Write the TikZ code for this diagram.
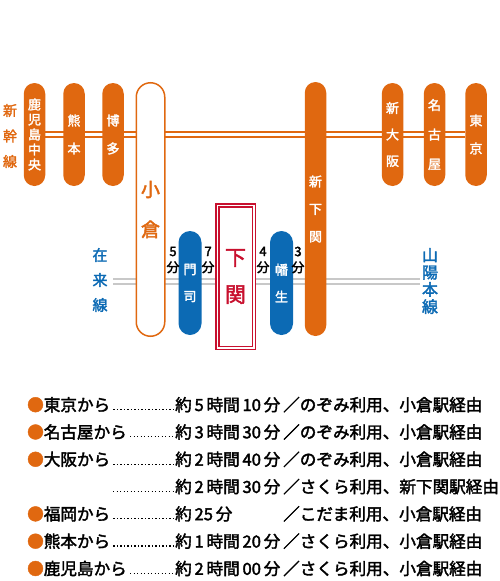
\documentclass[tikz,border=0pt]{standalone}
\usepackage{fontspec}
\newfontfamily\jp{Noto Sans CJK JP}[BoldFont={Noto Sans CJK JP}, BoldFeatures={FakeBold=2.2}]
\usetikzlibrary{backgrounds}
\definecolor{shinorange}{RGB}{224,104,16}
\definecolor{zaiblue}{RGB}{12,106,180}
\definecolor{shimored}{RGB}{200,16,46}
\definecolor{zaigray}{RGB}{200,200,200}
\begin{document}
\begin{tikzpicture}[x=1pt,y=-1pt,
  pill/.style={fill=shinorange, rounded corners=10.75pt, minimum width=21.5pt, minimum height=103pt,
    inner sep=0pt, text=white, align=center, font=\jp\bfseries\fontsize{13}{#1}\selectfont},
  pill/.default=28,
  bluepill/.style={pill=#1, fill=zaiblue, rounded corners=11.5pt, minimum width=23pt, minimum height=104pt},
  vlabel/.style n args={2}{inner sep=0pt, align=center, font=\jp\bfseries\fontsize{#1}{#2}\selectfont},
  minlabel/.style={vlabel={13}{16}},
  railline/.style={line width=1.5pt, double=white, double distance=3.5pt},
  item/.style={anchor=base west, inner sep=0pt, font=\jp\bfseries\fontsize{16.6}{16.6}\selectfont},
  leader/.style={line width=1.2pt, dash pattern=on 1.2pt off 2.3pt, shorten <=3pt, shorten >=2pt}]
  \useasboundingbox (0,0) rectangle (500,581);

  \node[pill=15] (kago) at (34.5,134.5) {鹿\\児\\島\\中\\央};
  \node[pill] (kuma) at (74,134.5) {熊\\本};
  \node[pill] (haka) at (113,134.5) {博\\多};
  \node[pill=26.5] (shinosaka) at (392.5,134.5) {新\\大\\阪};
  \node[pill=29.5] (nagoya) at (434.5,134.5) {名\\古\\屋};
  \node[pill] (tokyo) at (476,134.5) {東\\京};
  \node[pill=27.5, minimum height=254pt] (shinshimo) at (315.5,209) {新\\下\\関};
  \node[draw=shinorange, fill=white, line width=1.5pt, rounded corners=14.25pt, minimum width=28.5pt,
    minimum height=253.5pt, inner sep=0pt, align=center, text=shinorange,
    font=\jp\bfseries\fontsize{19}{40}\selectfont] (koku) at (150.5,209.5) {小\\倉};
  \node[bluepill=27] (moji) at (190,283) {門\\司};
  \node[bluepill=27] (hatabu) at (281.5,283) {幡\\生};
  \node[draw=shimored, fill=white, line width=1.5pt, double=white, double distance=1.5pt,
    minimum width=36.5pt, minimum height=142.5pt, inner sep=0pt, align=center, text=shimored,
    font=\jp\bfseries\fontsize{21}{37}\selectfont] (shimo) at (235.5,276.5) {下\\関};

  \node[minlabel] (m5) at (173,260) {5\\分};
  \node[minlabel] (m7) at (208,260) {7\\分};
  \node[minlabel] (m4) at (263,260) {4\\分};
  \node[minlabel] (m3) at (298,260) {3\\分};

  \node[vlabel={14}{25.5}, text=shinorange] (shinkansen) at (10,136) {新\\幹\\線};
  \node[vlabel={15}{25}, text=zaiblue] (zairai) at (100,280) {在\\来\\線};
  \node[vlabel={16}{17.2}, text=zaiblue] (sanyo) at (430,281) {山\\陽\\本\\線};

  \coordinate (zaiW) at (113,281.5);
  \coordinate (zaiE) at (420,281.5);
  \begin{scope}[on background layer]
    \draw[railline, draw=shinorange] (kago) -- (tokyo);
    \draw[railline, draw=zaigray] (zaiW) -- (zaiE);
  \end{scope}

  \node[item] (from1) at (27,411) {{\color{shinorange}●}東京から};
  \node[item] (time1) at (175,411) {約\,5\,時間\,10\,分};
  \node[item] (via1) at (283,411) {／のぞみ利用、小倉駅経由};
  \draw[leader] (from1.base east) ++(0,-1.5) coordinate (d1) (d1) -- (time1.base west |- d1);

  \node[item] (from2) at (27,438.3) {{\color{shinorange}●}名古屋から};
  \node[item] (time2) at (175,438.3) {約\,3\,時間\,30\,分};
  \node[item] (via2) at (283,438.3) {／のぞみ利用、小倉駅経由};
  \draw[leader] (from2.base east) ++(0,-1.5) coordinate (d2) (d2) -- (time2.base west |- d2);

  \node[item] (from3) at (27,465.6) {{\color{shinorange}●}大阪から};
  \node[item] (time3) at (175,465.6) {約\,2\,時間\,40\,分};
  \node[item] (via3) at (283,465.6) {／のぞみ利用、小倉駅経由};
  \draw[leader] (from3.base east) ++(0,-1.5) coordinate (d3) (d3) -- (time3.base west |- d3);

  \coordinate (from4) at (110,492.9);
  \node[item] (time4) at (175,492.9) {約\,2\,時間\,30\,分};
  \node[item] (via4) at (283,492.9) {／さくら利用、新下関駅経由};
  \draw[leader] (from4) ++(0,-1.5) coordinate (d4) (d4) -- (time4.base west |- d4);

  \node[item] (from5) at (27,520.2) {{\color{shinorange}●}福岡から};
  \node[item] (time5) at (175,520.2) {約\,25\,分};
  \node[item] (via5) at (283,520.2) {／こだま利用、小倉駅経由};
  \draw[leader] (from5.base east) ++(0,-1.5) coordinate (d5) (d5) -- (time5.base west |- d5);

  \node[item] (from6) at (27,547.5) {{\color{shinorange}●}熊本から};
  \node[item] (time6) at (175,547.5) {約\,1\,時間\,20\,分};
  \node[item] (via6) at (283,547.5) {／さくら利用、小倉駅経由};
  \draw[leader] (from6.base east) ++(0,-1.5) coordinate (d6) (d6) -- (time6.base west |- d6);

  \node[item] (from7) at (27,574.8) {{\color{shinorange}●}鹿児島から};
  \node[item] (time7) at (175,574.8) {約\,2\,時間\,00\,分};
  \node[item] (via7) at (283,574.8) {／さくら利用、小倉駅経由};
  \draw[leader] (from7.base east) ++(0,-1.5) coordinate (d7) (d7) -- (time7.base west |- d7);
\end{tikzpicture}
\end{document}
